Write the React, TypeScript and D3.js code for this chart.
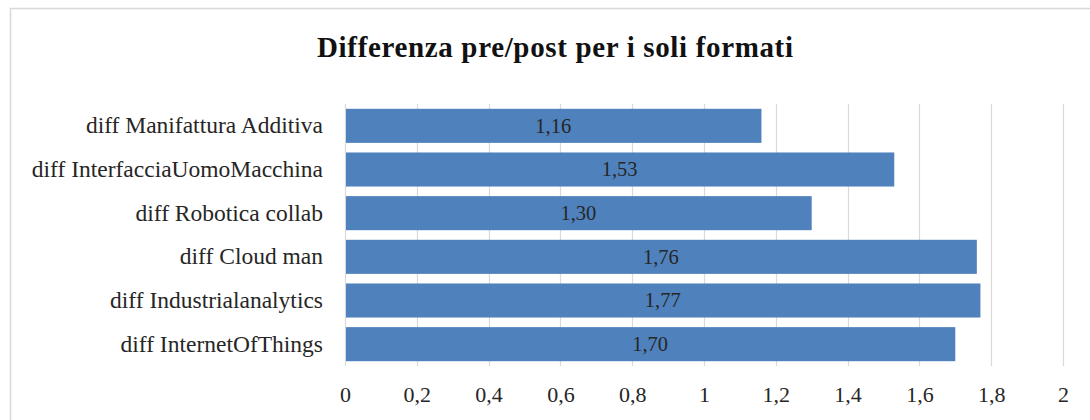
import { useEffect, useRef } from "react";
import * as d3 from "d3";

const categories = [
  "diff Manifattura Additiva",
  "diff InterfacciaUomoMacchina",
  "diff Robotica collab",
  "diff Cloud man",
  "diff Industrialanalytics",
  "diff InternetOfThings",
];
const values = [1.16, 1.53, 1.3, 1.76, 1.77, 1.7];
const xTicks = [0, 0.2, 0.4, 0.6, 0.8, 1, 1.2, 1.4, 1.6, 1.8, 2];
const title = "Differenza pre/post per i soli formati";

const itLocale = d3.formatLocale({
  decimal: ",",
  thousands: ".",
  grouping: [3],
  currency: ["", " €"],
});
const fmtTick = itLocale.format(".1~f");
const fmtValue = itLocale.format(".2f");

const FONT = "'Liberation Serif', 'DejaVu Serif', serif";

export default function App() {
  const svgRef = useRef<SVGSVGElement>(null);

  useEffect(() => {
    const svg = svgRef.current;
    if (!svg) return;
    const sel = d3.select(svg);
    sel.selectAll("*").remove();

    const margin = { top: 104, left: 345, right: 27, bottom: 54 };
    const W = 1090;
    const H = 420;
    const width = W - margin.left - margin.right;
    const height = H - margin.top - margin.bottom;

    // white chart frame
    sel
      .append("rect")
      .attr("x", 10.5)
      .attr("y", 8.5)
      .attr("width", 1200)
      .attr("height", 600)
      .attr("fill", "#fff")
      .attr("stroke", "#d9d9d9")
      .attr("stroke-width", 1.5);

    sel
      .append("text")
      .attr("x", 555)
      .attr("y", 57)
      .attr("text-anchor", "middle")
      .attr("font-family", FONT)
      .attr("font-weight", "bold")
      .attr("font-size", 29)
      .attr("textLength", 476)
      .attr("lengthAdjust", "spacing")
      .attr("fill", "#111")
      .text(title);

    const g = sel
      .append("g")
      .attr("transform", `translate(${margin.left},${margin.top})`);

    const x = d3.scaleLinear().domain([0, 2]).range([0, width]);
    const y = d3
      .scaleBand<string>()
      .domain(categories)
      .range([0, height])
      .paddingInner(0.22)
      .paddingOuter(0.11);

    // Grid lines
    g.append("g")
      .selectAll("line")
      .data(xTicks)
      .enter()
      .append("line")
      .attr("x1", (d) => Math.round(x(d)) + 0.5)
      .attr("x2", (d) => Math.round(x(d)) + 0.5)
      .attr("y1", 0)
      .attr("y2", height)
      .attr("stroke", "#d9d9d9")
      .attr("stroke-width", 1.2);

    // Bars
    g.selectAll("rect.bar")
      .data(values)
      .enter()
      .append("rect")
      .attr("class", "bar")
      .attr("x", x(0) + 1)
      .attr("y", (_d, i) => y(categories[i]) || 0)
      .attr("width", (d) => x(d) - x(0) - 1)
      .attr("height", y.bandwidth())
      .attr("fill", "#4f81bd");

    // Value labels
    g.selectAll("text.val")
      .data(values)
      .enter()
      .append("text")
      .attr("class", "val")
      .attr("x", (d) => x(d / 2))
      .attr("y", (_d, i) => (y(categories[i]) || 0) + y.bandwidth() / 2)
      .attr("dy", "0.33em")
      .attr("text-anchor", "middle")
      .attr("font-family", FONT)
      .attr("font-size", 20.5)
      .attr("fill", "#262626")
      .text((d) => fmtValue(d));

    // Category labels
    g.selectAll("text.cat")
      .data(categories)
      .enter()
      .append("text")
      .attr("class", "cat")
      .attr("x", -22)
      .attr("y", (d) => (y(d) || 0) + y.bandwidth() / 2)
      .attr("dy", "0.32em")
      .attr("text-anchor", "end")
      .attr("font-family", FONT)
      .attr("font-size", 23.5)
      .attr("fill", "#262626")
      .text((d) => d);

    // X axis
    const ax = g
      .append("g")
      .attr("transform", `translate(0,${height})`)
      .call(
        d3
          .axisBottom(x)
          .tickValues(xTicks)
          .tickFormat((d) => fmtTick(d as number))
          .tickSize(0)
          .tickPadding(20)
      );
    ax.select(".domain").remove();
    ax.selectAll("text")
      .attr("font-family", FONT)
      .attr("font-size", 22)
      .attr("fill", "#262626");
  }, []);

  return (
    <div style={{ position: "fixed", left: 0, top: 0, background: "#fff" }}>
      <svg ref={svgRef} width={1090} height={420} style={{ display: "block" }} />
    </div>
  );
}
